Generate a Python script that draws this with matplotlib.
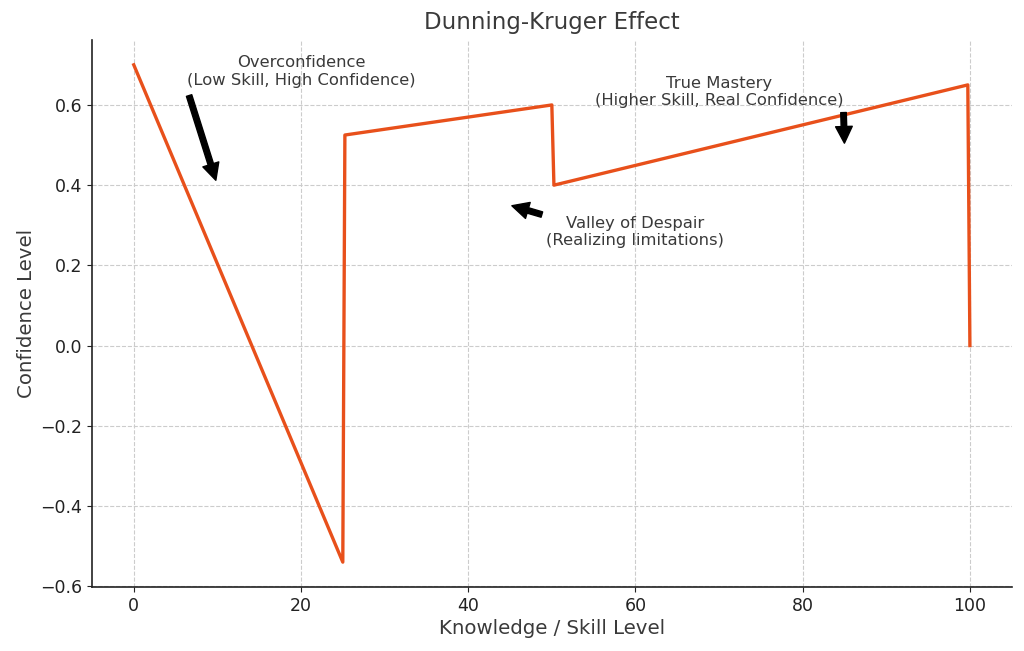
import matplotlib
matplotlib.use("Agg")
import matplotlib.pyplot as plt

# vertices of the confidence curve
skill = [0, 25, 25.25, 50, 50.25, 99.75, 100]
confidence = [0.70, -0.54, 0.525, 0.60, 0.40, 0.65, 0.0]

# annotations: text, point, text position
notas = [
    ("Overconfidence\n(Low Skill, High Confidence)", (10, 0.4), (20, 0.65)),
    ("Valley of Despair\n(Realizing limitations)", (45, 0.35), (60, 0.25)),
    ("True Mastery\n(Higher Skill, Real Confidence)", (85, 0.5), (70, 0.6)),
]

cor_texto = "#3a3a3a"
plt.rcParams["font.family"] = ["DejaVu Sans"]

fig, ax = plt.subplots(figsize=(10.24, 6.51), dpi=100)
fig.subplots_adjust(left=0.0898, right=0.988, top=0.9386, bottom=0.0983)

ax.plot(skill, confidence, color="#E8501B", linewidth=2.4)

for texto, xy, xytext in notas:
    ax.annotate(texto, xy=xy, xytext=xytext, ha="center", fontsize=11.8,
                color=cor_texto,
                arrowprops=dict(facecolor="black", edgecolor="black", shrink=0.05))

ax.set_title("Dunning-Kruger Effect", fontsize=16.5, color=cor_texto, pad=8)
ax.set_xlabel("Knowledge / Skill Level", fontsize=14.2, color=cor_texto, labelpad=3)
ax.set_ylabel("Confidence Level", fontsize=14.2, color=cor_texto, labelpad=3)
ax.tick_params(labelsize=12.5, colors="#222222")

ax.grid(True, linestyle="--", color="#cccccc", linewidth=0.8)
ax.spines["top"].set_visible(False)
ax.spines["right"].set_visible(False)
ax.spines["left"].set_color("#222222")
ax.spines["bottom"].set_color("#222222")
ax.spines["left"].set_linewidth(1.2)
ax.spines["bottom"].set_linewidth(1.2)

plt.savefig("out.png", dpi=100)
